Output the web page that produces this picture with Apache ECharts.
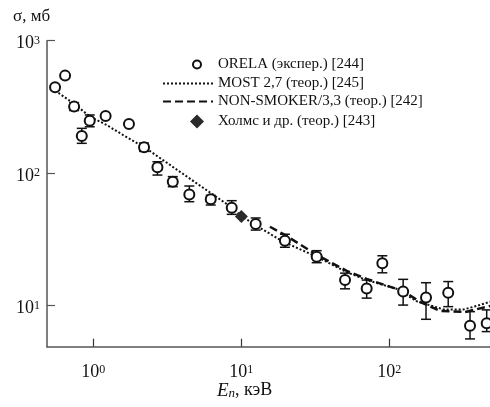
<!DOCTYPE html>
<html>
<head>
<meta charset="utf-8">
<script src="https://cdn.jsdelivr.net/npm/echarts@6/dist/echarts.min.js"></script>
<style>
html,body{margin:0;padding:0;background:#fff}
#main{width:490px;height:407px}
</style>
</head>
<body>
<div id="main"></div>
<script>
// ORELA measurements, E in keV, sigma in mb, error bar ends (null = no bar)
var orelaE  = [0.551, 0.644, 0.741, 0.835, 0.945, 1.21, 1.74, 2.20, 2.71, 3.44, 4.45, 6.21, 8.61, 12.5, 19.7, 32.3, 50.2, 70.3, 89.7, 124, 177, 250, 351, 455];
var orelaS  = [445, 545, 318, 191, 249, 270, 235, 157, 111, 86.3, 68.9, 63.5, 54.9, 41.4, 30.9, 23.4, 15.6, 13.5, 20.9, 12.8, 11.5, 12.5, 7.06, 7.36];
var orelaLo = [null, null, 297, 168, 224, null, null, 146, 96.8, 79.1, 60.9, 57.5, 48.9, 37.2, 27.6, 21.1, 13.4, 11.4, 17.7, 10.1, 7.89, 9.83, 5.61, 6.37];
var orelaHi = [null, null, 341, 218, 275, null, null, 169, 122, 94.2, 80.0, 68.1, 62.0, 45.9, 34.6, 26.0, 17.6, 15.6, 23.8, 15.8, 14.9, 15.2, 9.01, 9.29];

// MOST 2,7
var mostE = [0.524, 0.733, 0.95, 1.23, 1.59, 2.21, 2.69, 4.10, 6.15, 8.61, 9.8, 12.4, 19.2, 32.3, 51.5, 70.3, 112, 153, 232, 316, 390, 479];
var mostS = [437, 337, 267, 231, 194, 157, 135, 97.5, 71.4, 55.1, 48.4, 40.6, 30.4, 23.4, 17.9, 15.6, 13.4, 10.8, 9.36, 9.36, 9.95, 10.7];

// NON-SMOKER/3,3
var nonE = [15.6, 19.7, 32.3, 51.5, 70.3, 124, 161, 221, 327, 479];
var nonS = [39.4, 34.2, 24.2, 18.3, 15.9, 12.9, 10.7, 9.12, 8.96, 9.95];

// Holmes et al.
var holmsE = [10];
var holmsS = [47.0];

var xTicks = [1, 10, 100];
var yTicks = [10, 100, 1000];

var names = ['ORELA (экспер.) [244]', 'MOST 2,7 (теор.) [245]', 'NON-SMOKER/3,3 (теор.) [242]', 'Холмс и др. (теор.) [243]'];

var serif = 'Liberation Serif';

function pairs(xs, ys) {
  var out = [];
  for (var i = 0; i < xs.length; i++) out.push([xs[i], ys[i]]);
  return out;
}

var errData = [];
for (var i = 0; i < orelaE.length; i++) {
  if (orelaLo[i] != null) errData.push([orelaE[i], orelaLo[i], orelaHi[i]]);
}

function powLabel(v) {
  var e = Math.round(Math.log10(v));
  if (Math.abs(v - Math.pow(10, e)) / v > 1e-6) return '';
  return '{b|10}{s|' + e + '}';
}

var labelRich = {
  b: {fontSize: 18, lineHeight: 18, fontFamily: serif, color: '#111', verticalAlign: 'bottom'},
  s: {fontSize: 12, lineHeight: 12, fontFamily: serif, color: '#111', verticalAlign: 'top', padding: [0, 0, 8, 0]}
};

var chart = echarts.init(document.getElementById('main'));
chart.setOption({
  animation: false,
  backgroundColor: '#fff',
  grid: {left: 47, right: 0, top: 40.7, bottom: 60.3},
  xAxis: {
    type: 'log',
    min: 0.486,
    max: 479,
    splitLine: {show: false},
    axisLine: {lineStyle: {color: '#555', width: 1.5}},
    axisTick: {inside: true, length: 8, customValues: xTicks, lineStyle: {color: '#333', width: 1.2}},
    axisLabel: {margin: 17, customValues: xTicks, formatter: powLabel, rich: labelRich}
  },
  yAxis: {
    type: 'log',
    min: 4.9,
    max: 1000,
    splitLine: {show: false},
    axisLine: {lineStyle: {color: '#555', width: 1.5}},
    axisTick: {inside: true, length: 8, customValues: yTicks, lineStyle: {color: '#555', width: 1.2}},
    axisLabel: {margin: 7, padding: [6, 0, 0, 0], customValues: yTicks, formatter: powLabel, rich: labelRich}
  },
  legend: [{
    data: [names[0]],
    left: 187, top: 52,
    itemWidth: 32, itemHeight: 8,
    itemStyle: {borderWidth: 1},
    textStyle: {fontFamily: serif, fontSize: 15, color: '#111'}
  }, {
    data: [names[1], names[2]],
    orient: 'vertical',
    left: 157, top: 71,
    itemWidth: 50, itemHeight: 10, itemGap: 3,
    itemStyle: {opacity: 0},
    textStyle: {fontFamily: serif, fontSize: 15, color: '#111'}
  }, {
    data: [{name: names[3], icon: 'diamond'}],
    left: 185, top: 109,
    itemWidth: 14, itemHeight: 14,
    textStyle: {fontFamily: serif, fontSize: 15, color: '#111', padding: [0, 0, 0, 9]}
  }],
  graphic: [{
    type: 'text', left: 13, top: 8,
    style: {text: 'σ, мб', fontFamily: serif, fontSize: 17, fill: '#111'}
  }, {
    type: 'text', left: 217, top: 378,
    style: {
      text: '{e|E}{n|n}{t|, кэВ}',
      rich: {
        e: {fontFamily: serif, fontSize: 19, lineHeight: 19, fontStyle: 'italic', verticalAlign: 'top', fill: '#111'},
        n: {fontFamily: serif, fontSize: 13, lineHeight: 13, fontStyle: 'italic', verticalAlign: 'bottom', padding: [9, 0, 0, 0], fill: '#111'},
        t: {fontFamily: serif, fontSize: 18, lineHeight: 19, verticalAlign: 'top', fill: '#111'}
      }
    }
  }],
  series: [{
    name: names[1],
    type: 'line',
    data: pairs(mostE, mostS),
    symbol: 'none',
    z: 2,
    lineStyle: {color: '#111', width: 2, type: [2, 2]},
    itemStyle: {color: '#111'}
  }, {
    name: names[2],
    type: 'line',
    data: pairs(nonE, nonS),
    symbol: 'none',
    z: 2,
    lineStyle: {color: '#111', width: 2.5, type: [8, 4]},
    itemStyle: {color: '#111'}
  }, {
    name: 'err',
    type: 'custom',
    z: 3,
    data: errData,
    encode: {x: 0, y: [1, 2]},
    renderItem: function (params, api) {
      var x = api.value(0);
      var lo = api.coord([x, api.value(1)]);
      var hi = api.coord([x, api.value(2)]);
      var w = 5;
      var st = {stroke: '#111', lineWidth: 1.5};
      return {
        type: 'group',
        children: [
          {type: 'line', shape: {x1: lo[0], y1: lo[1], x2: hi[0], y2: hi[1]}, style: st},
          {type: 'line', shape: {x1: lo[0] - w, y1: lo[1], x2: lo[0] + w, y2: lo[1]}, style: st},
          {type: 'line', shape: {x1: hi[0] - w, y1: hi[1], x2: hi[0] + w, y2: hi[1]}, style: st}
        ]
      };
    }
  }, {
    name: names[0],
    type: 'scatter',
    data: pairs(orelaE, orelaS),
    symbol: 'emptyCircle',
    symbolSize: 10,
    z: 4,
    itemStyle: {color: '#111', borderWidth: 2, opacity: 1}
  }, {
    name: names[3],
    type: 'scatter',
    data: pairs(holmsE, holmsS),
    symbol: 'diamond',
    symbolSize: [13, 13],
    z: 5,
    itemStyle: {color: '#2a2a2a', opacity: 1}
  }]
});
</script>
</body>
</html>
